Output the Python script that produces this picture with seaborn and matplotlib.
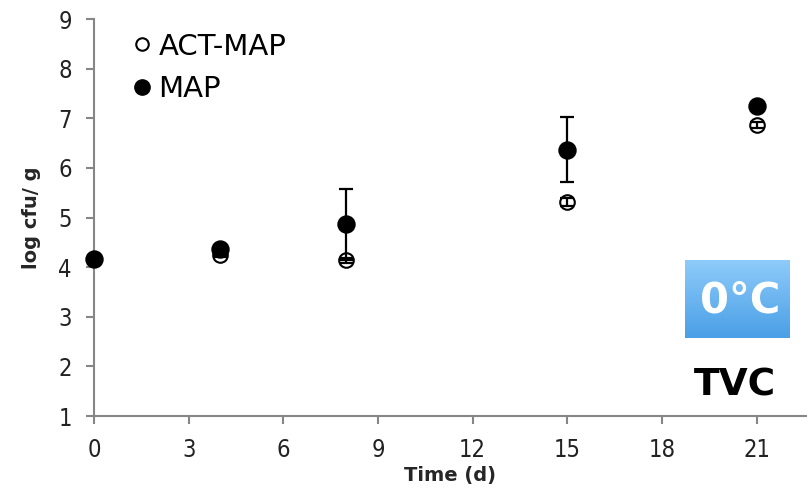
import numpy as np
import pandas as pd
import matplotlib
matplotlib.use("Agg")
import matplotlib.pyplot as plt
from matplotlib.lines import Line2D
import seaborn as sns

time_days = [0, 4, 8, 15, 21]
act_map = [4.17, 4.25, 4.14, 5.32, 6.86]
act_map_err = [0.03, 0.05, 0.05, 0.08, 0.06]
map_vals = [4.17, 4.37, 4.86, 6.37, 7.24]
map_err = [0.03, 0.06, 0.72, 0.66, 0.05]
x_ticks = [0, 3, 6, 9, 12, 15, 18, 21]
y_ticks = [1, 2, 3, 4, 5, 6, 7, 8, 9]

sns.set_theme(style="white")
plt.rcParams['font.family'] = ['DejaVu Sans']

fig = plt.figure(figsize=(8.07, 4.90), dpi=100)
ax = fig.add_axes([94/807, 1-416/490, 1-94/807, (416-19)/490])

df = pd.DataFrame({"t": time_days * 2,
                   "v": act_map + map_vals,
                   "e": act_map_err + map_err,
                   "s": ["ACT-MAP"] * 5 + ["MAP"] * 5})

sns.scatterplot(data=df[df.s == "ACT-MAP"], x="t", y="v", ax=ax, s=110,
                facecolor="white", edgecolor="black", linewidth=1.5, zorder=2,
                clip_on=False, legend=False)
for s in ["MAP", "ACT-MAP"]:
    d = df[df.s == s]
    ax.errorbar(d.t, d.v, yerr=d.e, fmt="none", ecolor="black",
                elinewidth=1.6, capsize=5, capthick=1.6, clip_on=False, zorder=3)
sns.scatterplot(data=df[df.s == "MAP"], x="t", y="v", ax=ax, s=150,
                color="black", edgecolor="black", linewidth=1, zorder=4,
                clip_on=False, legend=False)

ax.set_xlim(0, 22.6)
ax.set_ylim(1, 9)
ax.set_xticks(x_ticks)
ax.set_yticks(y_ticks)
ax.tick_params(axis="both", which="both", direction="out", length=6, width=1.5,
               color="#868686", labelsize=17, labelcolor="#222222", pad=10,
               bottom=True, left=True)
for lab in ax.get_xticklabels() + ax.get_yticklabels():
    lab.set_fontstretch("condensed")
for sp in ["top", "right"]:
    ax.spines[sp].set_visible(False)
for sp in ["left", "bottom"]:
    ax.spines[sp].set_color("#868686")
    ax.spines[sp].set_linewidth(1.5)

ax.set_xlabel("Time (d)", fontsize=14, fontweight="bold", labelpad=3)
ax.set_ylabel("log cfu/ g", fontsize=14, fontweight="bold", labelpad=12)

handles = [Line2D([], [], marker="o", linestyle="none", markersize=9,
                  markerfacecolor="white", markeredgecolor="black", markeredgewidth=1.5),
           Line2D([], [], marker="o", linestyle="none", markersize=11,
                  markerfacecolor="black", markeredgecolor="black")]
leg = ax.legend(handles, ["ACT-MAP", "MAP"], loc="upper left",
                bbox_to_anchor=(116/807, 1-18/490), bbox_transform=fig.transFigure,
                frameon=False, fontsize=21, handletextpad=0.15, labelspacing=0.5,
                handlelength=0.8, borderpad=0)
for t in leg.get_texts():
    t.set_color("black")

# 0°C box with gradient
bx = fig.add_axes([685/807, 1-338/490, 105/807, 78/490])
top = np.array([142, 203, 250]) / 255
bot = np.array([74, 159, 230]) / 255
g = np.linspace(0, 1, 100)[:, None]
img = top[None, None, :] * (1 - g[:, :, None]) + bot[None, None, :] * g[:, :, None]
bx.imshow(np.repeat(img, 2, axis=1), aspect="auto", extent=[0, 1, 0, 1])
bx.set_axis_off()
bx.text(0.53, 0.48, "0°C", color="white", fontsize=30, fontweight="bold",
        ha="center", va="center", transform=bx.transAxes)

fig.text(735/807, 1-385/490, "TVC", color="black", fontsize=27, fontweight="bold",
         ha="center", va="center")

fig.savefig("out.png", dpi=100)
